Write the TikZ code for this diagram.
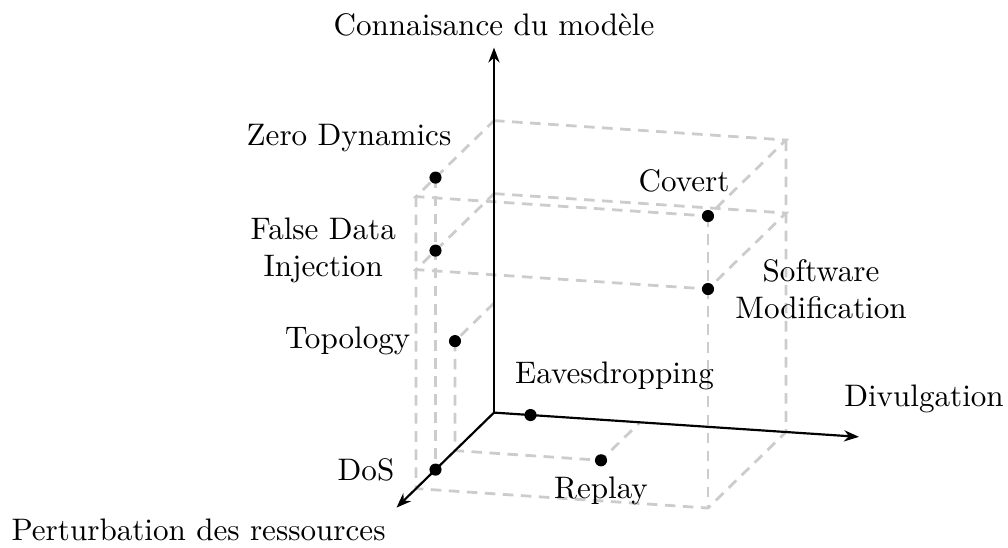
\documentclass[tikz,border=0pt]{standalone}
\usepackage{fontspec}
\usetikzlibrary{arrows.meta}
\begin{document}
\begin{tikzpicture}[x=0.3214pt,y=-0.3214pt,
  axis/.style={line width=0.7pt,-{Stealth[length=4.8pt,width=3.6pt]}},
  proj/.style={black!20,line width=0.9pt,dash pattern=on 3.4pt off 2.4pt},
  dot/.style={circle,fill=black,inner sep=0pt,minimum size=3.9pt},
  lbl/.style={inner sep=3.33pt,align=center}]
\useasboundingbox (0,0) rectangle (1008,547);
\begin{scope}[shift={(494,412.6)},
  x={(23.462pt,-1.559pt)}, y={(0pt,23.462pt)}, z={(-6.267pt,-6.107pt)}]
  % axis ends
  \coordinate (O) at (0,0,0);
  \coordinate (Xt) at (5,0,0);
  \coordinate (Yt) at (0,5,0);
  \coordinate (Zt) at (0,0,5);
  % box corners
  \coordinate (A0) at (0,4,0);
  \coordinate (A1) at (4,4,0);
  \coordinate (A2) at (4,4,4);
  \coordinate (A3) at (0,4,4);
  \coordinate (B0) at (0,3,0);
  \coordinate (B1) at (4,3,0);
  \coordinate (B2) at (4,3,4);
  \coordinate (B3) at (0,3,4);
  \coordinate (C1) at (4,0,0);
  \coordinate (C2) at (4,0,4);
  \coordinate (C3) at (0,0,4);
  \coordinate (T0) at (0,1.5,0);
  \coordinate (G2) at (0,0,2);
  \coordinate (R0) at (2,0,0);
  % point positions
  \coordinate (pzd)  at (0,4,3);
  \coordinate (pfdi) at (0,3,3);
  \coordinate (ptop) at (0,1.5,2);
  \coordinate (pdos) at (0,0,3);
  \coordinate (peav) at (0.5,0,0);
  \coordinate (prep) at (2,0,2);
  \coordinate (pcov) at (4,4,4);
  \coordinate (pswm) at (4,3,4);
  % projection lines
  \draw[proj] (A0) -- (A1) -- (A2) -- (A3) -- cycle;
  \draw[proj] (B0) -- (B1) -- (B2) -- (B3) -- cycle;
  \draw[proj] (A3) -- (C3) -- (C2) -- (C1) -- (A1);
  \draw[proj] (A2) -- (C2);
  \draw[proj] (pzd) -- (pdos);
  \draw[proj] (T0) -- (ptop) -- (G2) -- (prep) -- (R0);
  % axes
  \draw[axis] (O) -- (Xt);
  \draw[axis] (O) -- (Yt);
  \draw[axis] (O) -- (Zt);
  % points
  \node[dot] (zd)  at (pzd) {};
  \node[dot] (fdi) at (pfdi) {};
  \node[dot] (top) at (ptop) {};
  \node[dot] (dos) at (pdos) {};
  \node[dot] (eav) at (peav) {};
  \node[dot] (rep) at (prep) {};
  \node[dot] (cov) at (pcov) {};
  \node[dot] (swm) at (pswm) {};
  % axis labels
  \node[lbl,above] (ly) at (Yt) {Connaisance du modèle};
  \node[lbl,below left] (lz) at (Zt) {Perturbation des ressources};
  \node[lbl,xshift=20.9pt,yshift=12.2pt] (lx) at (Xt) {Divulgation};
  % point labels
  \node[lbl,xshift=-27.8pt,yshift=12.7pt] (lzd) at (zd) {Zero Dynamics};
  \node[lbl,left=9.2pt] (lfdi) at (fdi) {False Data\\Injection};
  \node[lbl,left=10.8pt] (ltop) at (top) {Topology};
  \node[lbl,left=9.7pt] (ldos) at (dos) {DoS};
  \node[lbl,xshift=27pt,yshift=12.7pt] (leav) at (eav) {Eavesdropping};
  \node[lbl,below=1.95pt] (lrep) at (rep) {Replay};
  \node[lbl,xshift=-7.7pt,yshift=11.2pt] (lcov) at (cov) {Covert};
  \node[lbl,right=5.3pt] (lswm) at (swm) {Software\\Modification};
\end{scope}
\end{tikzpicture}
\end{document}
